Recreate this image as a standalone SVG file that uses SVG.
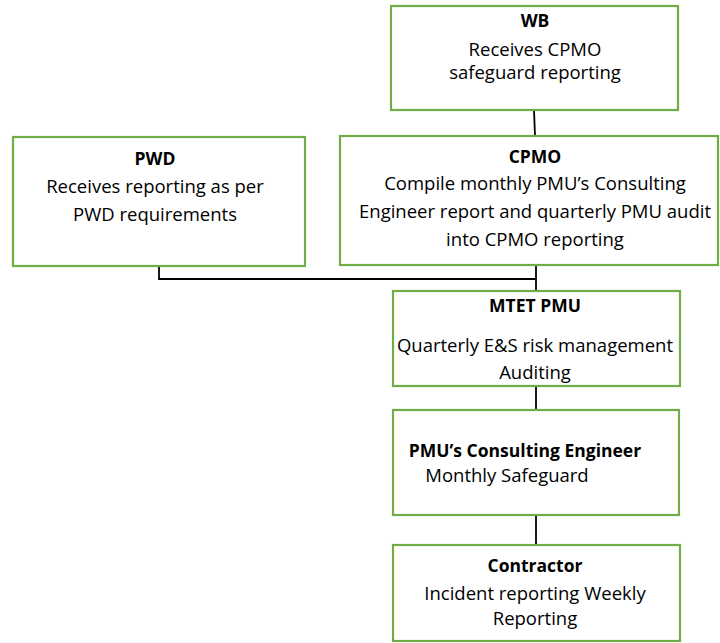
<svg xmlns="http://www.w3.org/2000/svg" width="720" height="643" viewBox="0 0 720 643">
<style>
.box{fill:#fff;stroke:#70AD47;stroke-width:2.2}
.t{font-family:"Open Sans","Liberation Sans",Arial,sans-serif;font-size:18.5px;fill:#000;text-anchor:middle}
.b{font-weight:bold;font-size:17.5px}
.ln{stroke:#000;stroke-width:1.8;fill:none}
</style>
<rect width="720" height="643" fill="#fff"/>
<g id="connectors">
<line class="ln" x1="534" y1="110" x2="535" y2="136"/>
<polyline class="ln" points="159,266 159,279 536,279"/>
<line class="ln" x1="536" y1="265" x2="536" y2="291"/>
<line class="ln" x1="536" y1="386" x2="536" y2="410"/>
<line class="ln" x1="536" y1="515" x2="536" y2="545"/>
</g>
<g id="wb">
<rect class="box" x="391" y="6" width="287" height="104"/>
<text class="t b" x="535" y="27">WB</text>
<text class="t" x="535" y="56">Receives CPMO</text>
<text class="t" x="535" y="79">safeguard reporting</text>
</g>
<g id="pwd">
<rect class="box" x="13" y="137" width="292" height="129"/>
<text class="t b" x="155" y="165">PWD</text>
<text class="t" x="155" y="193">Receives reporting as per</text>
<text class="t" x="155" y="221">PWD requirements</text>
</g>
<g id="cpmo">
<rect class="box" x="340" y="136" width="378" height="129"/>
<text class="t b" x="535" y="163">CPMO</text>
<text class="t" x="535" y="190">Compile monthly PMU’s Consulting</text>
<text class="t" x="535" y="218">Engineer report and quarterly PMU audit</text>
<text class="t" x="535" y="246">into CPMO reporting</text>
</g>
<g id="mtet">
<rect class="box" x="393" y="291" width="287" height="95"/>
<text class="t b" x="535" y="312">MTET PMU</text>
<text class="t" x="535" y="352">Quarterly E&amp;S risk management</text>
<text class="t" x="535" y="379">Auditing</text>
</g>
<g id="engineer">
<rect class="box" x="393" y="410" width="286" height="105"/>
<text class="t b" x="525" y="457">PMU’s Consulting Engineer</text>
<text class="t" x="507" y="482">Monthly Safeguard</text>
</g>
<g id="contractor">
<rect class="box" x="393" y="545" width="287" height="96"/>
<text class="t b" x="535" y="572">Contractor</text>
<text class="t" x="535" y="600">Incident reporting Weekly</text>
<text class="t" x="535" y="625">Reporting</text>
</g>
</svg>
